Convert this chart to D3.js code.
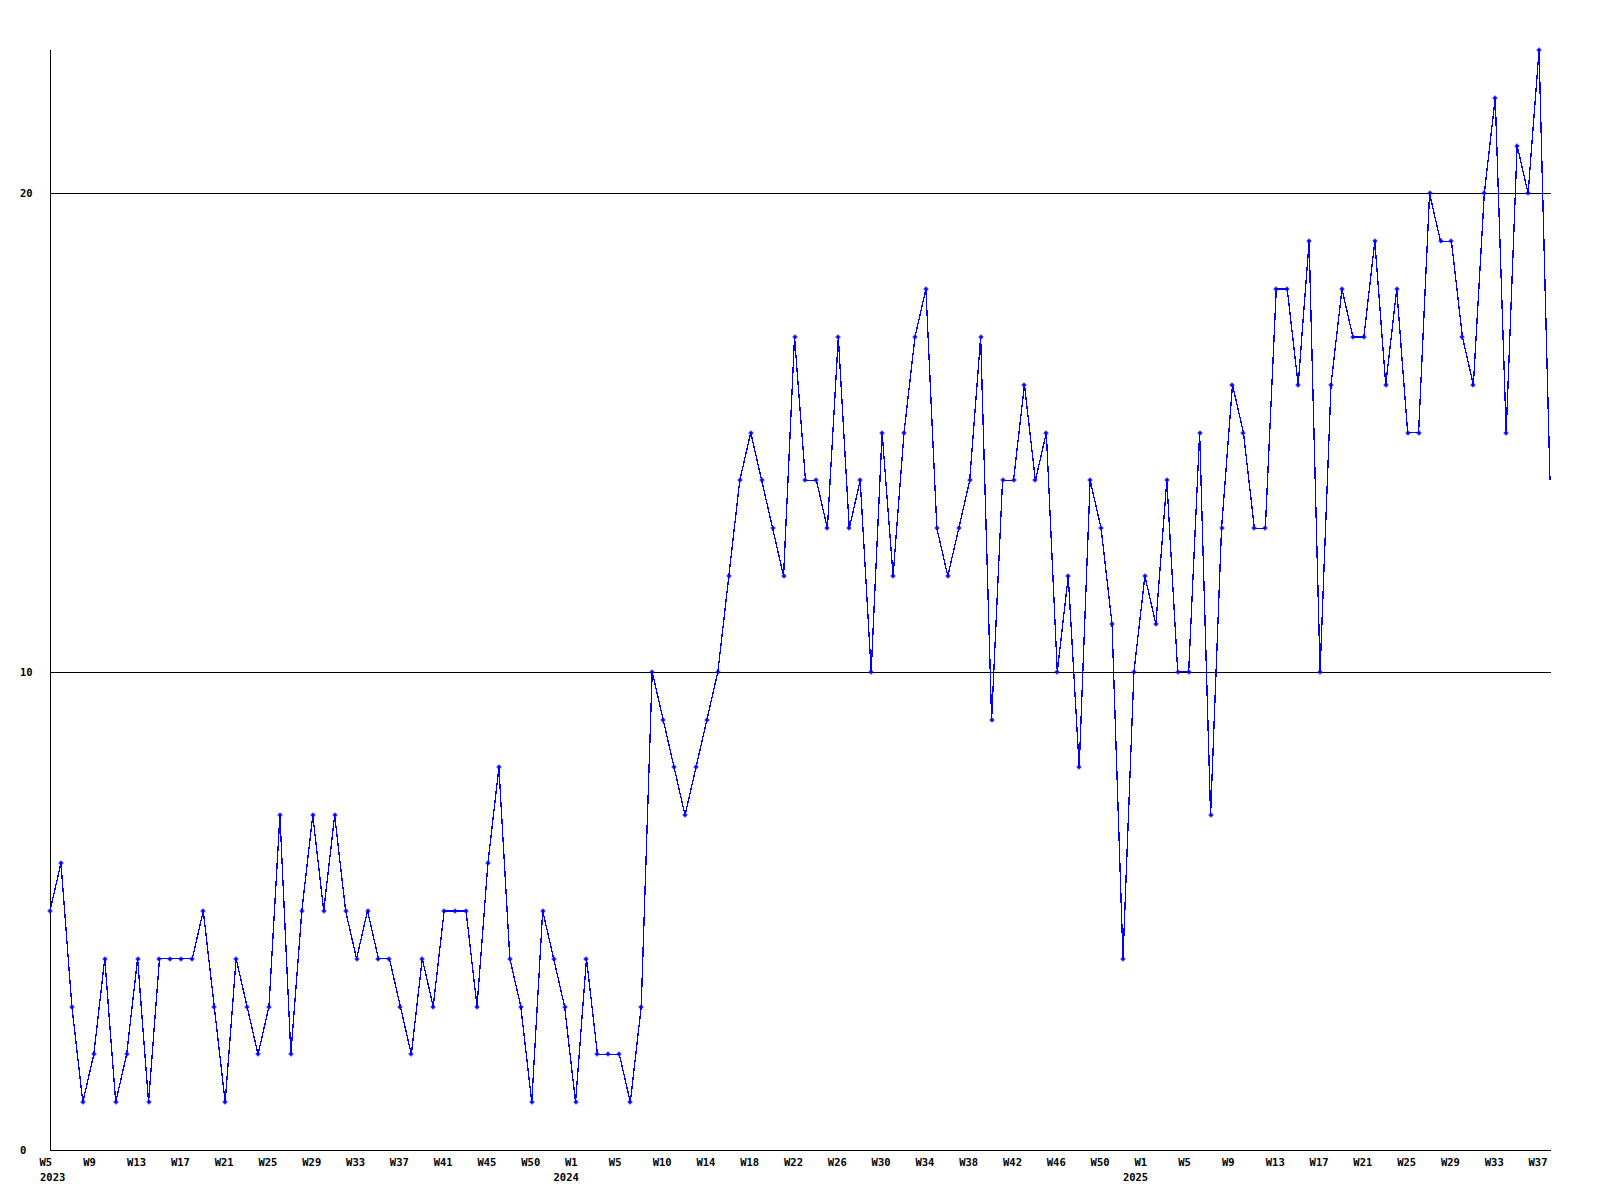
<!DOCTYPE html>
<html>
<head>
<meta charset="utf-8">
<script src="https://cdn.jsdelivr.net/npm/d3@7"></script>
<style>
  html, body { margin: 0; padding: 0; background: #ffffff; }
  svg { display: block; }
  text { font-family: "DejaVu Sans Mono", "Liberation Mono", monospace; font-size: 10.5px; font-weight: bold; fill: #000; }
</style>
</head>
<body>
<script>
// ---- data ----
const values = [
  5,6,3,1,2,4,1,2,4,1,
  4,4,4,4,5,3,1,4,3,2,
  3,7,2,5,7,5,7,5,4,5,
  4,4,3,2,4,3,5,5,5,3,
  6,8,4,3,1,5,4,3,1,4,
  2,2,2,1,3,10,9,8,7,8,
  9,10,12,14,15,14,13,12,17,14,
  14,13,17,13,14,10,15,12,15,17,
  18,13,12,13,14,17,9,14,14,16,
  14,15,10,12,8,14,13,11,4,10,
  12,11,14,10,10,15,7,13,16,15,
  13,13,18,18,16,19,10,16,18,17,
  17,19,16,18,15,15,20,19,19,17,
  16,20,22,15,21,20,23,14
];
const weekTickLabels = [
  "W5","W9","W13","W17","W21","W25","W29","W33","W37","W41","W45","W50",
  "W1","W5","W10","W14","W18","W22","W26","W30","W34","W38","W42","W46","W50",
  "W1","W5","W9","W13","W17","W21","W25","W29","W33","W37"
];
const weekTickIndex = d3.range(0, 137, 4);
const yearLabels = ["2023", "2024", "2025"];
const yearIndex = [0, 48, 100];
const yTicks = [0, 10, 20];

// ---- layout ----
const W = 1600, H = 1200;
const x0 = 50, x1 = 1550, yBottom = 1150, yTop = 50;

const svg = d3.select("body").append("svg").attr("width", W).attr("height", H);
svg.append("rect").attr("width", W).attr("height", H).attr("fill", "#fff");

const x = d3.scaleLinear().domain([0, values.length - 1]).range([x0, x1]);
const y = d3.scaleLinear().domain([0, 23]).range([yBottom, yTop]);

// grid lines
svg.append("g").selectAll("line").data(yTicks.filter(d => d > 0)).join("line")
  .attr("x1", x0).attr("x2", x1 + 1)
  .attr("y1", d => Math.round(y(d)) + 0.5).attr("y2", d => Math.round(y(d)) + 0.5)
  .attr("stroke", "#000").attr("stroke-width", 1).attr("shape-rendering", "crispEdges");

// axes lines
svg.append("line").attr("x1", x0 + 0.5).attr("x2", x0 + 0.5).attr("y1", yTop).attr("y2", yBottom + 1)
  .attr("stroke", "#000").attr("shape-rendering", "crispEdges");
svg.append("line").attr("x1", x0).attr("x2", x1 + 1).attr("y1", yBottom + 0.5).attr("y2", yBottom + 0.5)
  .attr("stroke", "#000").attr("shape-rendering", "crispEdges");

// y tick labels (left aligned, as in the reference)
svg.append("g").selectAll("text").data(yTicks).join("text")
  .attr("x", 20).attr("y", d => y(d))
  .attr("text-anchor", "start").attr("dominant-baseline", "central")
  .text(d => d);

// x tick labels
svg.append("g").selectAll("text").data(weekTickIndex).join("text")
  .attr("x", d => x(d) - 10.5).attr("y", 1162)
  .attr("dominant-baseline", "central")
  .text((d, i) => weekTickLabels[i]);

svg.append("g").selectAll("text").data(yearIndex).join("text")
  .attr("x", d => Math.max(40, x(d) - 22)).attr("y", 1177)
  .attr("dominant-baseline", "central")
  .text((d, i) => yearLabels[i]);

// line
const line = d3.line().x((d, i) => x(i)).y(d => y(d));
svg.append("path").datum(values)
  .attr("d", line)
  .attr("fill", "none").attr("stroke", "#0000ff").attr("stroke-width", 1.3)
  .attr("shape-rendering", "crispEdges");

// markers (all but the current, last point)
const mk = svg.append("g").attr("fill", "#0000ff").attr("stroke", "#0000ff");
const pts = values.slice(0, -1);
mk.selectAll("rect").data(pts).join("rect")
  .attr("x", (d, i) => Math.round(x(i)) - 1.5).attr("y", d => Math.round(y(d)) - 1.5)
  .attr("width", 3).attr("height", 3).attr("stroke", "none");
mk.selectAll("path").data(pts).join("path")
  .attr("d", (d, i) => {
    const cx = Math.round(x(i)), cy = Math.round(y(d));
    return `M${cx - 2.5},${cy}H${cx + 2.5}M${cx},${cy - 2.5}V${cy + 2.5}`;
  })
  .attr("stroke-width", 1).attr("fill", "none");
</script>
</body>
</html>
